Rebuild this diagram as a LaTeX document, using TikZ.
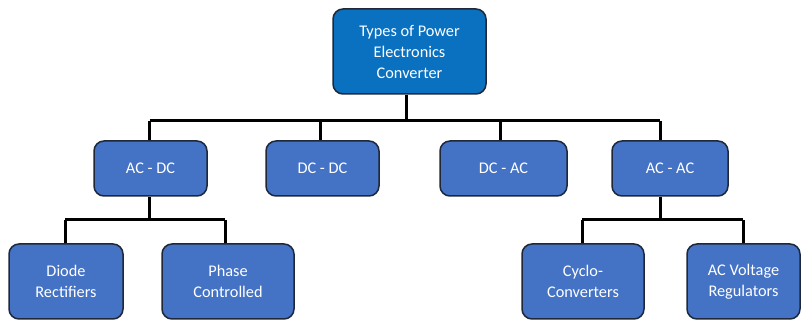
\documentclass[tikz,border=0pt]{standalone}
\usepackage{fontspec}
\setmainfont{Carlito}
\usetikzlibrary{backgrounds}
\definecolor{topblue}{HTML}{0A70C0}
\definecolor{boxblue}{HTML}{4472C4}
\definecolor{edgecol}{HTML}{1E2838}
\begin{document}
\begin{tikzpicture}[x=1pt,y=-1pt,
  box/.style={draw=edgecol, line width=1.5pt, fill=boxblue, rounded corners=10pt,
    text=white, align=center, inner sep=0pt,
    font=\fontsize{16.3}{21}\selectfont},
  topbox/.style={box, fill=topblue},
  conn/.style={line width=3pt, black}]
\useasboundingbox (0,0) rectangle (801,320);
% boxes: corners given in px
\node[topbox, minimum width=153pt, minimum height=85pt] (top) at (409.5,51.5) {Types of Power\\Electronics\\Converter};
\node[box, minimum width=113pt, minimum height=55pt] (acdc) at (150.5,168.5) {AC - DC};
\node[box, minimum width=113pt, minimum height=55pt] (dcdc) at (322.5,168.5) {DC - DC};
\node[box, minimum width=127pt, minimum height=55pt] (dcac) at (503.5,168.5) {DC - AC};
\node[box, minimum width=116pt, minimum height=55pt] (acac) at (670,168.5) {AC - AC};
\node[box, minimum width=114pt, minimum height=75pt] (diode) at (66,281.5) {Diode\\Rectifiers};
\node[box, minimum width=132pt, minimum height=75pt] (phase) at (228,281.5) {Phase\\Controlled};
\node[box, minimum width=122pt, minimum height=75pt] (cyclo) at (583,281.5) {Cyclo-\\Converters};
\node[box, minimum width=113pt, minimum height=75pt] (acvr) at (743.5,281.5) {AC Voltage\\Regulators};
% bus points
\coordinate (b0) at (406,121);
\coordinate (b1) at (149.5,121);
\coordinate (b2) at (320,121);
\coordinate (b3) at (500,121);
\coordinate (b4) at (660,121);
\coordinate (l0) at (149,220);
\coordinate (l1) at (65,220);
\coordinate (l2) at (225,220);
\coordinate (r0) at (660,220);
\coordinate (r1) at (582,220);
\coordinate (r2) at (743,220);
\begin{scope}[on background layer]
\draw[conn] (top.south -| b0) -- (b0);
\draw[conn] (b1) -- (b4);
\draw[conn] (b1) -- (acdc.north -| b1);
\draw[conn] (b2) -- (dcdc.north -| b2);
\draw[conn] (b3) -- (dcac.north -| b3);
\draw[conn] (b4) -- (acac.north -| b4);
\draw[conn] (acdc.south -| l0) -- (l0);
\draw[conn] (l1) -- (l2);
\draw[conn] (l1) -- (diode.north -| l1);
\draw[conn] (l2) -- (phase.north -| l2);
\draw[conn] (acac.south -| r0) -- (r0);
\draw[conn] (r1) -- (r2);
\draw[conn] (r1) -- (cyclo.north -| r1);
\draw[conn] (r2) -- (acvr.north -| r2);
\end{scope}
\end{tikzpicture}
\end{document}
